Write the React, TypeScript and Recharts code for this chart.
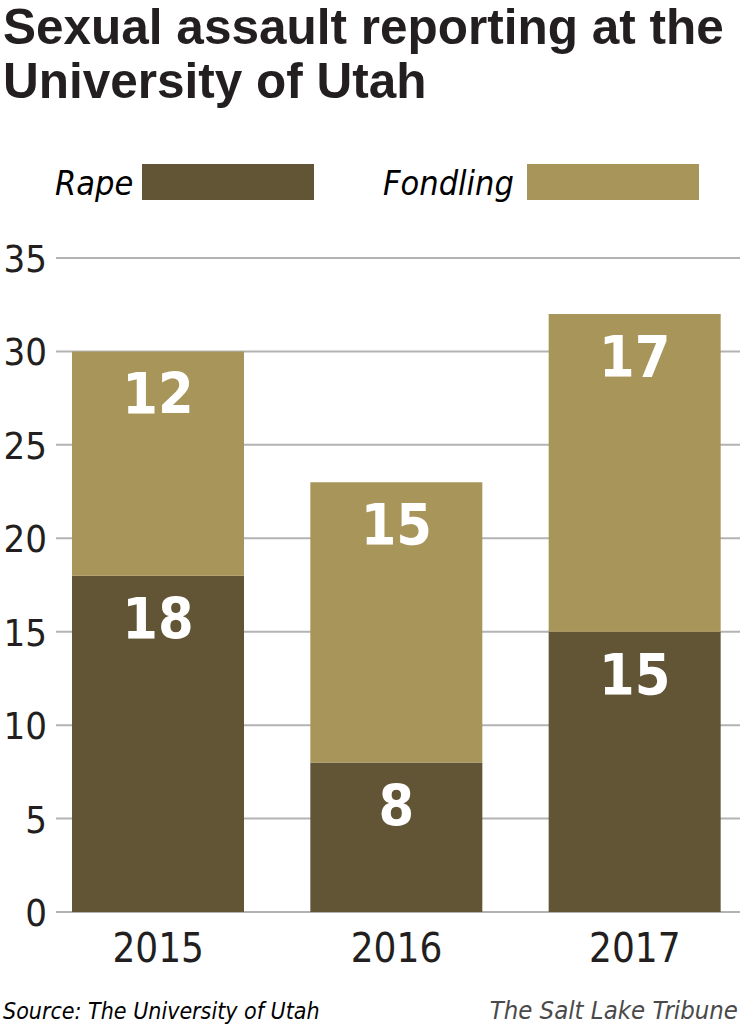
import React from 'react';
import { BarChart, Bar, XAxis, YAxis, CartesianGrid, LabelList } from 'recharts';

const years = ['2015', '2016', '2017'];
const rapeCounts = [18, 8, 15];
const fondlingCounts = [12, 15, 17];
const yTicks = [0, 5, 10, 15, 20, 25, 30, 35];
const seriesNames = ['Rape', 'Fondling'];
const seriesKeys = ['rape', 'fondling'];
const seriesColors = ['#625536', '#a8955a'];
const titleLines = ['Sexual assault reporting at the', 'University of Utah'];
const sourceText = 'Source: The University of Utah';
const creditText = 'The Salt Lake Tribune';

const data = years.map((year, i) => ({
  year,
  rape: rapeCounts[i],
  fondling: fondlingCounts[i],
}));

const NARROW = "'Liberation Sans Narrow', 'DejaVu Sans Condensed', 'Liberation Sans', sans-serif";
const TEXT = '#231f20';

const legendTextWidths = [87, 144];
const legendLefts = [55, 383];

const renderGridLine = (props: any) => (
  <line
    key={`grid-${props.index}-${props.y1}`}
    x1={56}
    x2={740}
    y1={props.y1}
    y2={props.y2}
    stroke="#b3b3b3"
    strokeWidth={2}
  />
);

const YTick = (props: any) => {
  const { x, y, payload } = props;
  return (
    <text x={Number(x) + 8} y={Number(y)} dy={14} textAnchor="end" fill={TEXT} fontSize={38} fontFamily={NARROW}>
      {payload.value}
    </text>
  );
};

const XTick = (props: any) => {
  const { x, y, payload } = props;
  return (
    <text x={Number(x)} y={Number(y)} dy={50} textAnchor="middle" fill={TEXT} fontSize={40} fontFamily={NARROW}>
      {payload.value}
    </text>
  );
};

const renderBarLabel = (props: any) => {
  const { x, y, width, value } = props;
  return (
    <text
      x={Number(x) + Number(width) / 2}
      y={Number(y) + 63}
      textAnchor="middle"
      fill="#ffffff"
      fontSize={57}
      fontWeight={700}
      fontFamily={NARROW}
    >
      {value}
    </text>
  );
};

export default function App() {
  return (
    <div
      style={{
        position: 'absolute',
        left: 0,
        top: 0,
        width: 750,
        height: 1027,
        overflow: 'hidden',
        background: '#ffffff',
      }}
    >
      <div
        style={{
          position: 'absolute',
          left: 3,
          top: 0,
          fontFamily: "'Liberation Sans', Arial, sans-serif",
          fontWeight: 700,
          fontSize: 49.5,
          lineHeight: '54px',
          color: TEXT,
          whiteSpace: 'nowrap',
        }}
      >
        {titleLines.map((l) => (
          <div key={l}>{l}</div>
        ))}
      </div>

      {seriesNames.map((name, i) => (
        <div
          key={name}
          style={{
            position: 'absolute',
            left: legendLefts[i],
            top: 164,
            height: 36,
            display: 'flex',
            alignItems: 'flex-start',
          }}
        >
          <span
            style={{
              width: legendTextWidths[i],
              fontFamily: NARROW,
              fontStyle: 'italic',
              fontSize: 34,
              lineHeight: '38px',
              color: '#000',
              whiteSpace: 'nowrap',
            }}
          >
            {name}
          </span>
          <span style={{ width: 172, height: 36, background: seriesColors[i], display: 'block' }} />
        </div>
      ))}

      <div style={{ position: 'absolute', left: 0, top: 0 }}>
        <BarChart
          width={755}
          height={1027}
          data={data}
          margin={{ top: 258, right: 1, bottom: 55, left: 0 }}
          barCategoryGap={0}
        >
          <CartesianGrid vertical={false} horizontal={renderGridLine} />
          <YAxis
            width={39}
            domain={[0, 35]}
            ticks={yTicks}
            axisLine={false}
            tickLine={false}
            tickSize={0}
            tickMargin={0}
            tick={<YTick />}
            interval={0}
          />
          <XAxis
            dataKey="year"
            height={60}
            axisLine={false}
            tickLine={false}
            tickSize={0}
            tickMargin={0}
            tick={<XTick />}
            interval={0}
          />
          {seriesKeys.map((k, i) => (
            <Bar key={k} dataKey={k} name={seriesNames[i]} stackId="a" fill={seriesColors[i]} barSize={172} isAnimationActive={false}>
              <LabelList dataKey={k} content={renderBarLabel} />
            </Bar>
          ))}
        </BarChart>
      </div>

      <div
        style={{
          position: 'absolute',
          left: 3,
          top: 1000,
          fontFamily: NARROW,
          fontStyle: 'italic',
          fontSize: 23,
          lineHeight: 1,
          color: '#000',
          whiteSpace: 'nowrap',
        }}
      >
        {sourceText}
      </div>
      <div
        style={{
          position: 'absolute',
          right: 12,
          top: 998,
          fontFamily: NARROW,
          fontStyle: 'italic',
          fontSize: 25.5,
          lineHeight: 1,
          color: '#4a4a4a',
          whiteSpace: 'nowrap',
        }}
      >
        {creditText}
      </div>
    </div>
  );
}
